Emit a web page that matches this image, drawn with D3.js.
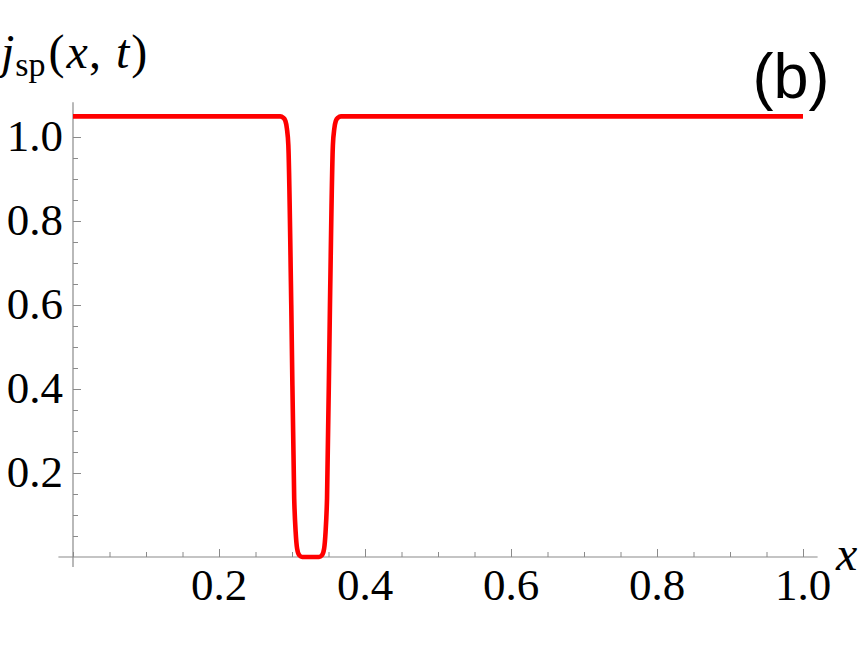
<!DOCTYPE html>
<meta charset="utf-8">
<style>
body { margin: 0; background: #fff; }
.tick-label { font-family: "Liberation Serif", "DejaVu Serif", serif; font-size: 45px; fill: #000; }
.axis-label { font-family: "Liberation Serif", serif; font-size: 48px; fill: #000; }
.tag { font-family: "Liberation Sans", Arial, sans-serif; font-size: 63px; fill: #000; }
</style>
<body>
<script src="https://d3js.org/d3.v7.min.js"></script>
<script>

// current profile j_sp(x, t)
var xs = [0, 0.284, 0.288, 0.291, 0.293, 0.295, 0.299, 0.303, 0.305, 0.307, 0.310, 0.314,
          0.337, 0.341, 0.344, 0.346, 0.348, 0.352, 0.356, 0.358, 0.360, 0.363, 0.367, 1.0];
var js = [1.049, 1.049, 1.046, 1.038, 1.02, 0.98, 0.60, 0.14, 0.06, 0.02, 0.004, 0,
          0, 0.004, 0.02, 0.06, 0.14, 0.60, 0.98, 1.02, 1.038, 1.046, 1.049, 1.049];

var xTicks = [0.2, 0.4, 0.6, 0.8, 1.0];
var yTicks = [0.2, 0.4, 0.6, 0.8, 1.0];

var width = 864,
    height = 648;

var x = d3.scaleLinear()
    .domain([0, 1])
    .range([73, 803]);

var y = d3.scaleLinear()
    .domain([0, 1])
    .range([557, 137]);

var svg = d3.select("body").append("svg")
    .attr("width", width)
    .attr("height", height);

var axisColor = "#8a8a8a";

// axis lines (run a little past the plot range, like Mathematica)
svg.append("line")
    .attr("x1", x(-0.02)).attr("x2", x(1.02))
    .attr("y1", y(0)).attr("y2", y(0))
    .attr("stroke", axisColor).attr("stroke-width", 1.2);
svg.append("line")
    .attr("x1", x(0)).attr("x2", x(0))
    .attr("y1", y(-0.024)).attr("y2", y(1.083))
    .attr("stroke", axisColor).attr("stroke-width", 1.2);

function styleAxis(g) {
  g.select(".domain").remove();
  g.selectAll("line").attr("stroke", axisColor).attr("stroke-width", 1);
  g.selectAll("text").remove();
}

// x ticks point up, y ticks point right
svg.append("g")
    .attr("transform", "translate(0," + y(0) + ")")
    .call(d3.axisBottom(x).tickValues(x.ticks(20)).tickSize(-5))
    .call(styleAxis);
svg.append("g")
    .attr("transform", "translate(0," + y(0) + ")")
    .call(d3.axisBottom(x).tickValues(xTicks).tickSize(-8))
    .call(styleAxis);
svg.append("g")
    .attr("transform", "translate(" + x(0) + ",0)")
    .call(d3.axisLeft(y).tickValues(d3.range(1, 22).map(function(i) { return i * 0.05; })).tickSize(-5))
    .call(styleAxis);
svg.append("g")
    .attr("transform", "translate(" + x(0) + ",0)")
    .call(d3.axisLeft(y).tickValues(yTicks).tickSize(-8))
    .call(styleAxis);

svg.selectAll(".xlab")
    .data(xTicks)
  .enter().append("text")
    .attr("class", "tick-label")
    .attr("text-anchor", "middle")
    .attr("x", function(d) { return x(d); })
    .attr("y", y(0) + 43)
    .text(function(d) { return d.toFixed(1); });

svg.selectAll(".ylab")
    .data(yTicks)
  .enter().append("text")
    .attr("class", "tick-label")
    .attr("text-anchor", "end")
    .attr("x", x(0) - 10)
    .attr("y", function(d) { return y(d) + 14; })
    .text(function(d) { return d.toFixed(1); });

// axis labels
svg.append("text")
    .attr("class", "axis-label")
    .attr("x", 836).attr("y", 570)
    .style("font-style", "italic")
    .text("x");

var yl = svg.append("text")
    .attr("class", "axis-label")
    .attr("x", 1).attr("y", 68);
yl.append("tspan").style("font-style", "italic").text("j");
yl.append("tspan").attr("dy", 8).attr("dx", 1).style("font-size", "34px").text("sp");
yl.append("tspan").attr("dy", -8).attr("dx", 3).text("(");
yl.append("tspan").attr("dx", 2).style("font-style", "italic").text("x");
yl.append("tspan").attr("dx", 1).text(", ");
yl.append("tspan").attr("dx", 3).style("font-style", "italic").text("t");
yl.append("tspan").attr("dx", 2).text(")");

svg.append("text")
    .attr("class", "tag")
    .attr("text-anchor", "middle")
    .attr("x", 791).attr("y", 98)
    .text("(b)");

// the curve
var line = d3.line()
    .x(function(d, i) { return x(xs[i]); })
    .y(function(d, i) { return y(js[i]); })
    .curve(d3.curveMonotoneX);

svg.append("path")
    .datum(xs)
    .attr("d", line)
    .attr("fill", "none")
    .attr("stroke", "#ff0000")
    .attr("stroke-width", 4.6);

</script>
